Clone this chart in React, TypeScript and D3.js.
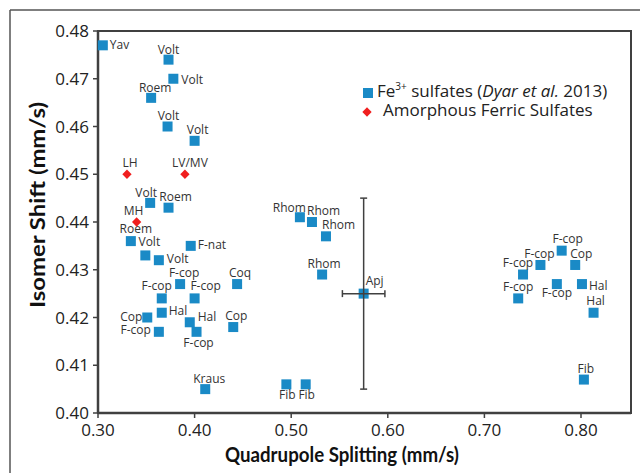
import React from "react";
import * as d3 from "d3";

const fe3Names = ["Yav","Volt","Volt","Roem","Volt","Volt","Volt","Roem","Roem","Volt","Volt","F-nat","F-cop","F-cop","F-cop","Coq","Cop","Hal","F-cop","Hal","F-cop","Cop","Kraus","Fib","Fib","Rhom","Rhom","Rhom","Rhom","F-cop","F-cop","Cop","F-cop","F-cop","Hal","F-cop","Hal","Fib"];
const fe3QS = [0.305,0.373,0.378,0.355,0.372,0.400,0.354,0.373,0.334,0.349,0.363,0.396,0.385,0.366,0.400,0.444,0.351,0.366,0.363,0.395,0.402,0.440,0.411,0.495,0.515,0.509,0.5215,0.536,0.532,0.780,0.758,0.794,0.740,0.775,0.801,0.735,0.813,0.803];
const fe3IS = [0.477,0.474,0.470,0.466,0.460,0.457,0.444,0.443,0.436,0.433,0.432,0.435,0.427,0.424,0.424,0.427,0.420,0.421,0.417,0.419,0.417,0.418,0.405,0.406,0.406,0.441,0.440,0.437,0.429,0.434,0.431,0.431,0.429,0.427,0.427,0.424,0.421,0.407];

// label layout (anchor, offset from the marker centre)
const fe3LabelAnchor = ["start","middle","start","middle","middle","middle","middle","middle","middle","middle","start","start","middle","middle","middle","middle","end","start","end","start","middle","middle","middle","middle","middle","end","start","start","middle","middle","middle","middle","middle","middle","start","middle","middle","middle"];
const fe3LabelDx = [7,0,8,4,1,3,-4,7,5,4,8,7,4,-5,11,3,-5,7,-8,8,2,3,4,1,1,6,-5,-4,2,6,-1,6,-5,0,7,0,2,2];
const fe3LabelDy = [4,-6,5,-6,-7,-7,-6,-7,-8,-9,3,3,-7,-8,-8,-7,3,2,2,-1,15,-7,-6,15,15,-5,-7,-7,-7,-8,-7,-7,-8,13,6,-7,-8,-7];

const apjName = "Apj";
const apjQS = 0.575;
const apjIS = 0.425;
const apjErrQS = 0.022;
const apjErrIS = 0.020;

const amorNames = ["LH","LV/MV","MH"];
const amorQS = [0.330,0.390,0.340];
const amorIS = [0.450,0.450,0.440];
const amorLabelDx = [3,5,-3];

const xTicks = [0.3,0.4,0.5,0.6,0.7,0.8];
const yTicks = [0.40,0.41,0.42,0.43,0.44,0.45,0.46,0.47,0.48];

const BLUE = "#1a8ac6";
const RED = "#f01e1e";
const DARK = "#404040";
const FONT = "'Open Sans', sans-serif";

const L = 98, R = 631, T = 31, B = 413;

export default function App() {
  const x = d3.scaleLinear().domain([0.3, 0.3 + (R - L) / 966]).range([L, R]);
  const y = d3.scaleLinear().domain([0.40, 0.48]).range([B, 31]);
  const sq = 10;

  const diamond = d3.symbol().type(d3.symbolDiamond2).size(55)();

  return (
    <svg width={640} height={473} style={{ position: "absolute", left: 0, top: 0, background: "#fff" }} fontFamily={FONT}>
      {/* outer figure frame */}
      <line x1={10} y1={10} x2={640} y2={10} stroke="#555" strokeWidth={1.5} />
      <line x1={10} y1={10} x2={10} y2={473} stroke="#555" strokeWidth={1.5} />

      {/* plot box */}
      <rect x={L} y={T} width={R - L} height={B - T} fill="none" stroke={DARK} strokeWidth={2} />
      <line x1={L} y1={T} x2={L} y2={B} stroke={DARK} strokeWidth={2.5} />
      <line x1={L} y1={B} x2={R} y2={B} stroke={DARK} strokeWidth={2.5} />

      {/* y ticks */}
      {yTicks.map((t) => (
        <g key={"y" + t}>
          <line x1={L - 5} x2={L} y1={y(t)} y2={y(t)} stroke={DARK} strokeWidth={1.5} />
          <text x={L - 9} y={y(t) + 6} textAnchor="end" fontSize={17} fill="#222">{t.toFixed(2)}</text>
        </g>
      ))}
      {/* x ticks */}
      {xTicks.map((t) => (
        <g key={"x" + t}>
          <line x1={x(t)} x2={x(t)} y1={B} y2={B + 5} stroke={DARK} strokeWidth={1.5} />
          <text x={x(t)} y={B + 23} textAnchor="middle" fontSize={17} fill="#222">{t.toFixed(2)}</text>
        </g>
      ))}

      {/* axis titles */}
      <text x={342} y={462} textAnchor="middle" fontSize={20} fontWeight="bold" fill="#111"
        fontFamily="Lato, sans-serif" textLength={234} lengthAdjust="spacingAndGlyphs">Quadrupole Splitting (mm/s)</text>
      <text transform={`translate(45,${205}) rotate(-90)`} textAnchor="middle" fontSize={20} fontWeight="bold" fill="#111"
        fontFamily="Lato, sans-serif" textLength={206} lengthAdjust="spacingAndGlyphs">Isomer Shift (mm/s)</text>

      {/* Fe3+ sulfates */}
      {fe3QS.map((q, i) => {
        const cx = x(q), cy = y(fe3IS[i]);
        return <rect key={"s" + i} x={cx - sq / 2} y={cy - sq / 2} width={sq} height={sq} fill={BLUE} />;
      })}
      {fe3QS.map((q, i) => {
        const cx = x(q), cy = y(fe3IS[i]);
        return (
          <text key={"sl" + i} x={cx + fe3LabelDx[i]} y={cy + fe3LabelDy[i]}
            textAnchor={fe3LabelAnchor[i] as any} fontSize={12} fill="#333">{fe3Names[i]}</text>
        );
      })}

      {/* Apj with error bars */}
      {(() => {
        const cx = x(apjQS), cy = y(apjIS);
        const x0 = x(apjQS - apjErrQS), x1 = x(apjQS + apjErrQS);
        const y0 = y(apjIS + apjErrIS), y1 = y(apjIS - apjErrIS);
        return (
          <g>
            <rect x={cx - sq / 2} y={cy - sq / 2} width={sq} height={sq} fill={BLUE} />
            <line x1={x0} x2={x1} y1={cy} y2={cy} stroke={DARK} strokeWidth={1.5} />
            <line x1={x0} x2={x0} y1={cy - 3.5} y2={cy + 3.5} stroke={DARK} strokeWidth={1.5} />
            <line x1={x1} x2={x1} y1={cy - 3.5} y2={cy + 3.5} stroke={DARK} strokeWidth={1.5} />
            <line x1={cx} x2={cx} y1={y0} y2={y1} stroke={DARK} strokeWidth={1.5} />
            <line x1={cx - 3.5} x2={cx + 3.5} y1={y0} y2={y0} stroke={DARK} strokeWidth={1.5} />
            <line x1={cx - 3.5} x2={cx + 3.5} y1={y1} y2={y1} stroke={DARK} strokeWidth={1.5} />
            <text x={cx + 2} y={cy - 9} fontSize={12} fill="#333">{apjName}</text>
          </g>
        );
      })()}

      {/* Amorphous ferric sulfates */}
      {amorQS.map((q, i) => {
        const cx = x(q), cy = y(amorIS[i]);
        return (
          <g key={"a" + i}>
            <path d={diamond as string} transform={`translate(${cx},${cy})`} fill={RED} />
            <text x={cx + amorLabelDx[i]} y={cy - 7} textAnchor="middle" fontSize={12} fill="#333">{amorNames[i]}</text>
          </g>
        );
      })}

      {/* legend */}
      <rect x={363} y={88} width={10} height={10} fill={BLUE} />
      <text x={377} y={97} fontSize={17} fill="#222">
        Fe<tspan fontSize={10} dy={-7}>3+</tspan><tspan dy={7}> sulfates (</tspan><tspan fontStyle="italic">Dyar et al.</tspan> 2013)
      </text>
      <path d={diamond as string} transform={`translate(367,112)`} fill={RED} />
      <text x={383} y={116} fontSize={17} fill="#222">Amorphous Ferric Sulfates</text>
    </svg>
  );
}
